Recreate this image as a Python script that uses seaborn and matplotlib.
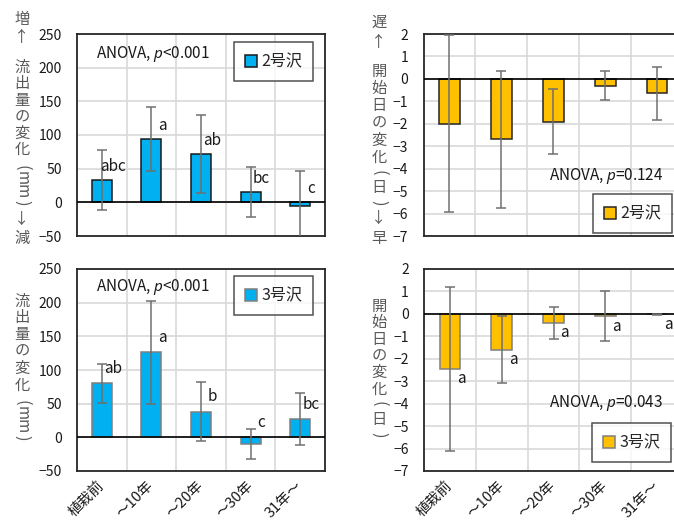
import matplotlib
matplotlib.use("Agg")
import matplotlib.pyplot as plt
import seaborn as sns
import pandas as pd
from matplotlib.lines import Line2D

# ---------------- data ----------------
categories = ["植栽前", "～10年", "～20年", "～30年", "31年～"]

flow2 = [33, 94, 72, 15, -5]
flow2_err = [44, 47, 58, 37, 52]
flow2_letters = ["abc", "a", "ab", "bc", "c"]

flow3 = [80, 126, 38, -10, 27]
flow3_err = [29.5, 76, 43.5, 22, 38.5]
flow3_letters = ["ab", "a", "b", "c", "bc"]

start2 = [-2.0, -2.7, -1.9, -0.3, -0.65]
start2_err = [3.95, 3.05, 1.45, 0.65, 1.2]

start3 = [-2.45, -1.6, -0.4, -0.1, -0.02]
start3_err = [3.65, 1.5, 0.7, 1.1, 0.02]
start3_letters = ["a", "a", "a", "a", "a"]

anova_texts = ["ANOVA, $\\mathit{p}$<0.001", "ANOVA, $\\mathit{p}$=0.124",
               "ANOVA, $\\mathit{p}$<0.001", "ANOVA, $\\mathit{p}$=0.043"]
legend_labels = ["2号沢", "2号沢", "3号沢", "3号沢"]

# ---------------- style ----------------
sns.set_theme(style="white")
FAM = ["Noto Sans CJK JP", "DejaVu Sans"]
plt.rcParams["font.family"] = FAM
plt.rcParams["mathtext.fontset"] = "custom"
plt.rcParams["mathtext.rm"] = "Noto Sans"
plt.rcParams["mathtext.it"] = "Noto Sans:italic"

BLUE = "#00B0F0"
ORANGE = "#FFC000"
GRID = "#d9d9d9"
ERR = "#707070"
LABEL_GRAY = "#595959"
TXT = "#1a1a1a"

W, H = 674, 522
fig = plt.figure(figsize=(W / 100, H / 100), dpi=100)


def ax_px(left, top, right, bottom):
    return fig.add_axes([left / W, 1 - bottom / H, (right - left) / W, (bottom - top) / H])


ax_tl = ax_px(77, 34, 325, 236)
ax_tr = ax_px(423.5, 34, 683, 236)
ax_bl = ax_px(77, 269, 325, 471)
ax_br = ax_px(424, 269, 683, 471)


def panel(ax, vals, errs, color, edge, ylim, ystep, show_x, anova, anova_pos,
          leg_label, leg_anchor, letters=None, letter_mode="above", letter_off=0):
    df = pd.DataFrame({"cat": categories, "val": vals})
    sns.barplot(data=df, x="cat", y="val", order=categories, color=color,
                saturation=1, edgecolor=edge, linewidth=1.1, width=0.4,
                errorbar=None, ax=ax, zorder=2)
    ax.errorbar(range(len(vals)), vals, yerr=errs, fmt="none", ecolor=ERR,
                elinewidth=1.1, capsize=3.5, capthick=1.1, zorder=4)
    ax.axhline(0, color="black", lw=1.2, zorder=3)
    ax.set_xlim(-0.5, 4.5)
    ax.set_ylim(*ylim)
    ticks = list(range(ylim[0], ylim[1] + 1, ystep))
    ax.set_yticks(ticks)
    ax.set_xticks([0.5, 1.5, 2.5, 3.5], minor=True)
    ax.grid(axis="y", which="major", color=GRID, lw=1.2)
    ax.grid(axis="x", which="minor", color=GRID, lw=1.2)
    ax.grid(axis="x", which="major", visible=False)
    ax.set_axisbelow(True)
    ax.tick_params(axis="both", which="both", length=0)
    ax.tick_params(axis="y", pad=11, labelsize=10, labelcolor=TXT)
    ax.set_xlabel("")
    ax.set_ylabel("")
    ax.set_xticks(range(5))
    if show_x:
        ax.set_xticklabels(categories, rotation=45, ha="right", va="center",
                           rotation_mode="anchor", fontsize=10.5, color=TXT)
        ax.tick_params(axis="x", pad=9)
    else:
        ax.set_xticklabels([])
    for s in ax.spines.values():
        s.set_visible(True)
        s.set_color("#262626")
        s.set_linewidth(1.3)
    ax.text(anova_pos[0], anova_pos[1], anova, transform=ax.transAxes,
            ha="center", va="center", fontsize=11, color=TXT)
    handle = Line2D([], [], marker="s", ls="none", markerfacecolor=color,
                    markeredgecolor=edge, markeredgewidth=1.1, markersize=9)
    leg = ax.legend([handle], [leg_label], loc="upper right",
                    bbox_to_anchor=leg_anchor, frameon=True, fancybox=False,
                    edgecolor="#262626", fontsize=11.5, handlelength=0.8,
                    handletextpad=0.2, borderpad=0.7, borderaxespad=0)
    leg.get_frame().set_linewidth(1.1)
    for t in leg.get_texts():
        t.set_color("#262626")
    if letters:
        for i, (v, lab) in enumerate(zip(vals, letters)):
            if letter_mode == "above":
                y = max(v, 0) + letter_off
            else:
                y = min(v, 0) - letter_off
            ax.text(i + 0.22, y, lab, ha="center", va="center", fontsize=11,
                    color=TXT, zorder=5)


panel(ax_tl, flow2, flow2_err, BLUE, "#1a1a1a", (-50, 250), 50, False,
      anova_texts[0], (0.306, 0.90), legend_labels[0], (0.952, 0.96),
      flow2_letters, "above", 20)
panel(ax_tr, start2, start2_err, ORANGE, "#262626", (-7, 2), 1, False,
      anova_texts[1], (0.703, 0.297), legend_labels[1], (0.958, 0.208))
panel(ax_bl, flow3, flow3_err, BLUE, "#7f7f7f", (-50, 250), 50, True,
      anova_texts[2], (0.306, 0.91), legend_labels[2], (0.952, 0.965),
      flow3_letters, "above", 22)
panel(ax_br, start3, start3_err, ORANGE, "#7f7f7f", (-7, 2), 1, True,
      anova_texts[3], (0.703, 0.337), legend_labels[3], (0.954, 0.238),
      start3_letters, "below", 0.45)


# ---------------- vertical (tategaki) axis labels ----------------
def vtext(x, items):
    # items: (text, centre y in px, rotation, linespacing)
    for txt, y, rot, ls in items:
        fs = 12 if txt in ("(", ")") else 11
        fig.text(x / W, 1 - y / H, txt, ha="center", va="center", rotation=rot,
                 fontsize=fs, color=LABEL_GRAY, family=FAM, linespacing=ls,
                 multialignment="center")


V = "\n".join
vtext(22, [(V("増↑"), 28.5, 0, 1.02), (V("流出量の変化"), 108.5, 0, 0.95),
           ("(", 167.5, -90, 1), ("mm", 185, -90, 1), (")", 202.5, -90, 1),
           (V("↓減"), 229, 0, 1.2)])
vtext(379, [(V("遅↑"), 32.5, 0, 1.26), (V("開始日の変化"), 114.5, 0, 1.02),
            ("(", 173, -90, 1), ("日", 188, 0, 1), (")", 203, -90, 1),
            (V("↓早"), 228.5, 0, 1.26)])
vtext(22, [(V("流出量の変化"), 343, 0, 0.98),
           ("(", 402.5, -90, 1), ("mm", 420, -90, 1), (")", 437.5, -90, 1)])
vtext(379, [(V("開始日の変化"), 347.5, 0, 0.97),
            ("(", 404, -90, 1), ("日", 419.5, 0, 1), (")", 435, -90, 1)])

fig.savefig("out.png", dpi=100)
